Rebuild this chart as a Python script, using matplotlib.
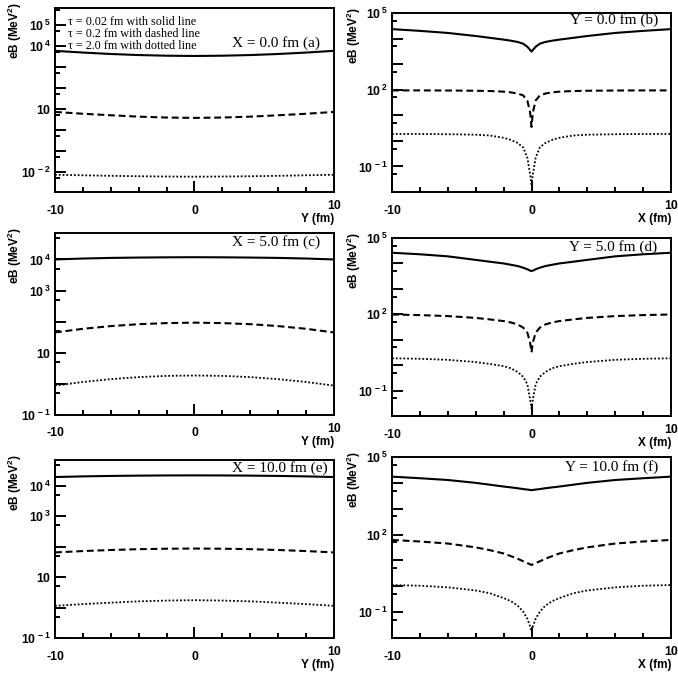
import matplotlib
matplotlib.use("Agg")
import numpy as np
import matplotlib.pyplot as plt
from matplotlib.ticker import FixedLocator, FixedFormatter

plt.rcParams['mathtext.fontset'] = 'custom'
plt.rcParams['mathtext.rm'] = 'Liberation Sans:bold'
plt.rcParams['mathtext.it'] = 'Liberation Sans:bold'
plt.rcParams['mathtext.bf'] = 'Liberation Sans:bold'
plt.rcParams['mathtext.default'] = 'rm'

# left column: scan along Y at fixed X
y_pos = [-10, -8, -6, -4, -2, 0, 2, 4, 6, 8, 10]
a_solid = [5800, 4800, 4100, 3650, 3400, 3300, 3400, 3650, 4100, 4800, 5800]
a_dashed = [7.2, 5.9, 5.0, 4.3, 3.9, 3.75, 3.9, 4.3, 5.0, 5.9, 7.2]
a_dotted = [7.4e-3, 7.0e-3, 6.6e-3, 6.3e-3, 6.1e-3, 6.0e-3, 6.1e-3, 6.3e-3, 6.6e-3, 7.0e-3, 7.4e-3]
c_solid = [1.0e4, 1.07e4, 1.12e4, 1.15e4, 1.17e4, 1.18e4, 1.17e4, 1.15e4, 1.12e4, 1.07e4, 1.0e4]
c_dashed = [45, 59, 72, 83, 90, 93, 90, 83, 72, 59, 45]
c_dotted = [0.88, 1.15, 1.42, 1.65, 1.81, 1.86, 1.81, 1.65, 1.42, 1.15, 0.88]
e_solid = [1.95e4, 2.05e4, 2.12e4, 2.17e4, 2.2e4, 2.21e4, 2.2e4, 2.17e4, 2.12e4, 2.05e4, 1.95e4]
e_dashed = [65, 72, 78, 83, 86, 87, 86, 83, 78, 72, 65]
e_dotted = [1.14, 1.3, 1.45, 1.6, 1.7, 1.75, 1.7, 1.6, 1.45, 1.3, 1.14]

# right column: scan along X at fixed Y
x_pos = [-10, -8, -6, -4, -3, -2, -1.5, -1, -0.6, -0.3, -0.1, 0,
         0.1, 0.3, 0.6, 1, 1.5, 2, 3, 4, 6, 8, 10]
b_solid = [23400, 20000, 16600, 12600, 10700, 9100, 8300, 7400, 6300, 4800, 3600, 3100,
           3600, 4800, 6300, 7400, 8300, 9100, 10700, 12600, 16600, 20000, 23400]
b_dashed = [94, 94, 93, 91, 89, 84, 79, 71, 60, 38, 13, 3.5,
            13, 38, 60, 71, 79, 84, 89, 91, 93, 94, 94]
b_dotted = [1.86, 1.86, 1.82, 1.74, 1.62, 1.32, 1.1, 0.83, 0.56, 0.22, 0.05, 0.02,
            0.05, 0.22, 0.56, 0.83, 1.1, 1.32, 1.62, 1.74, 1.82, 1.86, 1.86]
d_solid = [26300, 22900, 19000, 13800, 11700, 10000, 8900, 7900, 6800, 5900, 5200, 5000,
           5200, 5900, 6800, 7900, 8900, 10000, 11700, 13800, 19000, 22900, 26300]
d_dashed = [98, 93, 85, 72, 63, 54, 48, 40, 30, 19, 7.9, 3.2,
            7.9, 19, 30, 40, 48, 54, 63, 72, 85, 93, 98]
d_dotted = [1.86, 1.78, 1.62, 1.32, 1.12, 0.91, 0.76, 0.54, 0.35, 0.18, 0.045, 0.02,
            0.045, 0.18, 0.35, 0.54, 0.76, 0.91, 1.12, 1.32, 1.62, 1.78, 1.86]
f_solid = [17400, 15100, 12900, 10000, 8500, 7200, 6700, 6200, 5750, 5500, 5330, 5200,
           5330, 5500, 5750, 6200, 6700, 7200, 8500, 10000, 12900, 15100, 17400]
f_dashed = [62, 54, 45, 32, 25, 18.6, 14.8, 11.7, 9.3, 7.9, 7.1, 6.6,
            7.1, 7.9, 9.3, 11.7, 14.8, 18.6, 25, 32, 45, 54, 62]
f_dotted = [1.12, 1.05, 0.91, 0.69, 0.54, 0.35, 0.27, 0.18, 0.105, 0.056, 0.028, 0.018,
            0.028, 0.056, 0.105, 0.18, 0.27, 0.35, 0.54, 0.69, 0.91, 1.05, 1.12]

legend_lines = ["\u03c4 = 0.02 fm with solid line",
                "\u03c4 = 0.2 fm with dashed line",
                "\u03c4 = 2.0 fm with dotted line"]

W, H = 678, 673
fig = plt.figure(figsize=(W / 100, H / 100), dpi=100)


def fx(px):
    return px / W


def fy(py):
    return 1 - py / H


panels = [
    # frame (l, t, r, b), x, curves, ylim, labelled decades, title, title pos, axis name
    ((55, 8, 334, 192), y_pos, (a_solid, a_dashed, a_dotted), (10**-2.95, 10**5.8),
     [-2, 1, 4, 5], "X = 0.0 fm (a)", (320, 43), "Y (fm)"),
    ((392, 13, 671, 192), x_pos, (b_solid, b_dashed, b_dotted), (1e-2, 1e5),
     [-1, 2, 5], "Y = 0.0 fm (b)", (658, 20), "X (fm)"),
    ((55, 233, 334, 415), y_pos, (c_solid, c_dashed, c_dotted), (0.1, 10**4.85),
     [-1, 1, 3, 4], "X = 5.0 fm (c)", (320, 242), "Y (fm)"),
    ((392, 238, 671, 416), x_pos, (d_solid, d_dashed, d_dotted), (1e-2, 1e5),
     [-1, 2, 5], "Y = 5.0 fm (d)", (657, 247), "X (fm)"),
    ((55, 460, 334, 638), y_pos, (e_solid, e_dashed, e_dotted), (0.1, 10**4.85),
     [-1, 1, 3, 4], "X = 10.0 fm (e)", (328, 468), "Y (fm)"),
    ((392, 457, 671, 638), x_pos, (f_solid, f_dashed, f_dotted), (1e-2, 1e5),
     [-1, 2, 5], "Y = 10.0 fm (f)", (658, 467), "X (fm)"),
]

bold = dict(family="Liberation Sans", weight="bold", size=8.5)
serif = dict(family="Liberation Serif")

for (l, t, r, b), xs, (s, d, o), ylim, labdec, title, (tx, ty), xname in panels:
    ax = fig.add_axes([fx(l), fy(b), fx(r - l), (b - t) / H])
    ax.plot(xs, s, color="black", lw=1.5, ls="-")
    ax.plot(xs, d, color="black", lw=1.5, ls=(0, (3.3, 1.8)))
    ax.plot(xs, o, color="black", lw=1.3, ls=(0, (1, 1.1)))
    ax.set_yscale("log")
    ax.set_xlim(-10, 10)
    ax.set_ylim(*ylim)

    lo = int(np.ceil(np.log10(ylim[0]) - 1e-9))
    hi = int(np.floor(np.log10(ylim[1]) + 1e-9))
    decs = list(range(lo, hi + 1))
    labels = []
    for k in decs:
        if k in labdec:
            labels.append("$10$" if k == 1 else "$10^{\\,%d}$" % k)
        else:
            labels.append("")
    ax.yaxis.set_major_locator(FixedLocator([10.0**k for k in decs]))
    ax.yaxis.set_major_formatter(FixedFormatter(labels))
    minors = [5 * 10.0**k for k in range(lo - 1, hi + 1)
              if ylim[0] < 5 * 10.0**k < ylim[1]]
    ax.yaxis.set_minor_locator(FixedLocator(minors))
    ax.yaxis.set_minor_formatter(FixedFormatter([""] * len(minors)))

    ax.xaxis.set_major_locator(FixedLocator([-10, 0, 10]))
    ax.xaxis.set_major_formatter(FixedFormatter(["-10", "0", "10"]))
    ax.xaxis.set_minor_locator(FixedLocator([-8, -6, -4, -2, 2, 4, 6, 8]))

    ax.tick_params(which="both", direction="in", top=False, right=False, width=1.4)
    ax.tick_params(which="major", length=8)
    ax.tick_params(which="minor", length=3.6)
    ax.tick_params(axis="y", pad=3)
    ax.tick_params(axis="x", pad=9)
    xt = ax.xaxis.get_major_ticks()
    xt[-1].set_pad(5.5)
    for lab in ax.get_xticklabels() + ax.get_yticklabels():
        lab.set_fontfamily("Liberation Sans")
        lab.set_fontweight("bold")
        lab.set_fontsize(8.8)
    for sp in ax.spines.values():
        sp.set_linewidth(1.4)

    fig.text(fx(tx), fy(ty), title, ha="right", va="center", fontsize=11, **serif)
    fig.text(fx(r), fy(b + 27), xname, ha="right", va="center", **bold)
    fig.text(fx(l - 40 if l < 300 else l - 38), fy(t - 6), "eB (MeV$^2$)",
             rotation=90, ha="center", va="top", **bold)

for i, line in enumerate(legend_lines):
    fig.text(fx(68), fy(22 + 12 * i), line, ha="left", va="center", fontsize=8.7, **serif)

fig.savefig("out.png", dpi=100)
